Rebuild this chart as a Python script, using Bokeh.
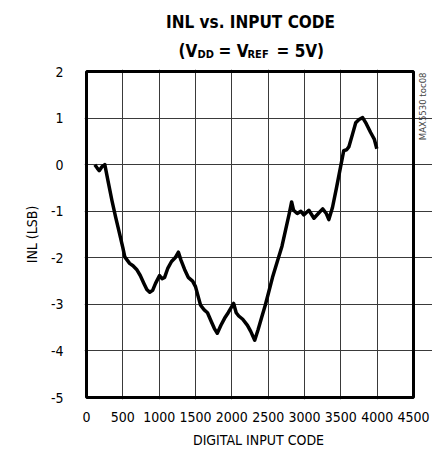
from bokeh.plotting import figure
from bokeh.models import Range1d, FixedTicker, BoxAnnotation
from bokeh.layouts import column
from bokeh.core.properties import value
from bokeh.embed import file_html
from bokeh.resources import INLINE
import math

# INL measured against digital input code
codes = [115, 150, 175, 210, 252, 300, 350, 400, 450, 500, 527, 560, 593, 640, 690,
         740, 790, 830, 870, 910, 950, 1005, 1040, 1075, 1120, 1170, 1220, 1265, 1300,
         1350, 1400, 1460, 1500, 1540, 1570, 1620, 1665, 1720, 1760, 1800, 1850, 1900,
         1950, 2025, 2060, 2095, 2150, 2215, 2260, 2315, 2360, 2410, 2460, 2505, 2560,
         2630, 2690, 2740, 2790, 2823, 2850, 2900, 2950, 2990, 3060, 3130, 3190, 3250,
         3300, 3335, 3385, 3440, 3495, 3540, 3580, 3610, 3660, 3705, 3750, 3800, 3850,
         3910, 3960, 3995]
inl = [0.0, -0.08, -0.13, -0.05, 0.0, -0.38, -0.77, -1.12, -1.45, -1.78, -1.98, -2.05,
       -2.12, -2.17, -2.25, -2.38, -2.55, -2.68, -2.74, -2.70, -2.55, -2.38, -2.45, -2.42,
       -2.22, -2.08, -2.00, -1.88, -2.05, -2.25, -2.42, -2.50, -2.62, -2.85, -3.02, -3.12,
       -3.18, -3.38, -3.52, -3.62, -3.45, -3.30, -3.18, -2.98, -3.18, -3.25, -3.32, -3.45,
       -3.58, -3.77, -3.55, -3.28, -3.02, -2.75, -2.42, -2.06, -1.75, -1.40, -1.05, -0.80,
       -0.98, -1.05, -1.00, -1.08, -0.98, -1.15, -1.05, -0.95, -1.05, -1.18, -0.92, -0.50,
       -0.06, 0.30, 0.32, 0.38, 0.65, 0.90, 0.97, 1.01, 0.88, 0.69, 0.55, 0.34]

x_ticks = [0, 500, 1000, 1500, 2000, 2500, 3000, 3500, 4000, 4500]
y_ticks = [-5, -4, -3, -2, -1, 0, 1, 2]

FONT = "DejaVu Sans Condensed"

W, H = 432, 455
HEAD_H = 60                      # title strip above the chart
MAIN_H = H - HEAD_H

# chart box (canvas pixels) and the frame that holds it with a small margin
BOX_L, BOX_R, BOX_T, BOX_B = 86, 413, 71, 397
FR_L, FR_R, FR_T, FR_B = 84, W, 69, 399
XMIN, XMAX, YMIN, YMAX = x_ticks[0], x_ticks[-1], y_ticks[0], y_ticks[-1]
sx = (BOX_R - BOX_L) / (XMAX - XMIN)
sy = (BOX_B - BOX_T) / (YMAX - YMIN)
x_lo = XMIN - (BOX_L - FR_L) / sx
x_hi = XMAX + (FR_R - BOX_R) / sx
y_lo = YMIN - (FR_B - BOX_B) / sy
y_hi = YMAX + (BOX_T - FR_T) / sy


def say(fig, x, y, text, size, bold=True, align="left", angle=0.0, color="black"):
    fig.text(x=[x], y=[y], text=[text], text_font=value(FONT), text_font_size=size,
             text_font_style="bold" if bold else "normal", text_align=align,
             text_baseline="alphabetic", angle=angle, text_color=color)


# ---- title strip: its frame lines up with the chart's frame, and its
# data units are canvas pixels (x from the page's left edge, y downward)
head = figure(width=W, height=HEAD_H, output_backend="svg", toolbar_location=None,
              x_range=Range1d(FR_L, FR_R), y_range=Range1d(HEAD_H, 0),
              x_axis_type=None, y_axis_type=None,
              min_border_left=FR_L, min_border_right=W - FR_R,
              min_border_top=0, min_border_bottom=0)
head.outline_line_color = None
head.grid.visible = False

say(head, 250, 21, "INL vs. INPUT CODE", "17px", align="center")
say(head, 178, 50, "(V", "17px")
say(head, 197, 54, "DD", "11px")
say(head, 218, 50, "= V", "17px")
say(head, 247, 54, "REF", "11px")
say(head, 276, 50, "= 5V)", "17px")

# ---- main chart --------------------------------------------------------
p = figure(width=W, height=MAIN_H, output_backend="svg", toolbar_location=None,
           x_range=Range1d(x_lo, x_hi), y_range=Range1d(y_lo, y_hi),
           min_border_left=FR_L, min_border_right=W - FR_R,
           min_border_top=FR_T - HEAD_H, min_border_bottom=H - FR_B)

p.background_fill_color = "white"
p.border_fill_color = "white"
p.outline_line_color = None

for ax in (p.xaxis[0], p.yaxis[0]):
    ax.axis_line_color = None
    ax.major_tick_line_color = None
    ax.minor_tick_line_color = None
    ax.major_label_text_font = FONT
    ax.major_label_text_font_size = "14px"
    ax.major_label_text_color = "black"
    ax.axis_label_text_font = FONT
    ax.axis_label_text_font_size = "14px"
    ax.axis_label_text_font_style = "normal"
    ax.axis_label_text_color = "black"

p.xaxis.ticker = FixedTicker(ticks=x_ticks)
p.yaxis.ticker = FixedTicker(ticks=y_ticks)
p.xaxis.bounds = (XMIN, XMAX)
p.yaxis.bounds = (YMIN, YMAX)
p.yaxis.major_label_overrides = {t: str(t) for t in y_ticks}
p.xaxis.major_label_overrides = {t: str(t) for t in x_ticks}
p.xaxis.major_label_standoff = 6
p.yaxis.major_label_standoff = 15
p.xaxis.axis_label = "DIGITAL INPUT CODE"
p.yaxis.axis_label = "INL (LSB)"
p.xaxis.axis_label_standoff = 7
p.yaxis.axis_label_standoff = 8

p.xgrid.ticker = FixedTicker(ticks=x_ticks[1:-1])
p.ygrid.ticker = FixedTicker(ticks=y_ticks[1:-1])
p.xgrid.bounds = (YMIN, YMAX)
p.ygrid.bounds = (XMIN, XMAX)
for g in (p.xgrid[0], p.ygrid[0]):
    g.grid_line_color = "#3a3a3a"
    g.grid_line_width = 1

p.line(codes, inl, line_color="black", line_width=3.5, line_join="round")

# heavy box around the plotting area
p.add_layout(BoxAnnotation(left=XMIN, right=XMAX, bottom=YMIN, top=YMAX,
                           fill_alpha=0, line_color="black", line_alpha=1.0,
                           line_width=3))

# figure id along the right edge, reading upward
say(p, XMAX + 9 / sx, YMAX - 1 / sy, "MAX5530 toc08", "9.5px", bold=False,
    align="right", angle=math.pi / 2, color="#444444")

layout = column(head, p, spacing=0)
open("out.html", "w").write(file_html(layout, INLINE))
